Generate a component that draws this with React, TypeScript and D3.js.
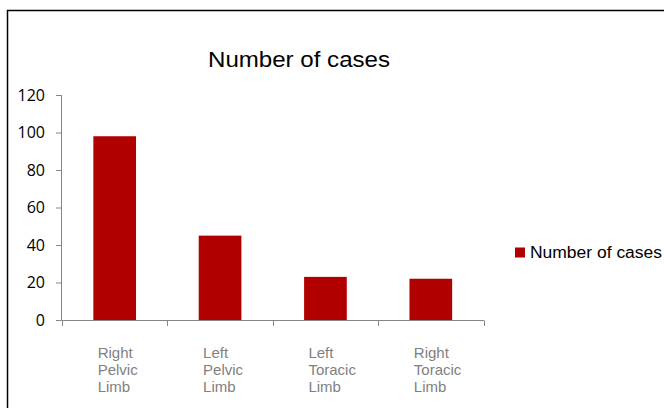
import React from "react";
import * as d3 from "d3";

const categories: string[][] = [
  ["Right", "Pelvic", "Limb"],
  ["Left", "Pelvic", "Limb"],
  ["Left", "Toracic", "Limb"],
  ["Right", "Toracic", "Limb"],
];
const categoryKeys = ["Right Pelvic Limb", "Left Pelvic Limb", "Left Toracic Limb", "Right Toracic Limb"];
const values = [98, 45, 23, 22];
const yTicks = [0, 20, 40, 60, 80, 100, 120];
const seriesName = "Number of cases";
const title = "Number of cases";

export default function App() {
  const W = 664, H = 408;
  const x = d3.scaleBand<string>().domain(categoryKeys).range([62, 483.5]).padding(0);
  const y = d3.scaleLinear().domain([0, 120]).range([320, 95]);
  const bw = x.bandwidth();
  const barW = bw * 0.405;
  const axisColor = "#868686";
  const barColor = "#b00000";

  return (
    <svg width={W} height={H} style={{ position: "absolute", left: 0, top: 0, background: "#fff" }}>
      <rect x={7.5} y={10.5} width={W + 10} height={H + 10} fill="#fff" stroke="#000" strokeWidth={1.5} />
      <text x={299} y={67} textAnchor="middle" fontFamily="Liberation Sans, Arial, sans-serif" fontSize={22} fill="#000"
        textLength={182} lengthAdjust="spacingAndGlyphs">{title}</text>

      {values.map((v, i) => {
        const cx = (x(categoryKeys[i]) as number) + bw / 2;
        return <rect key={i} x={cx - barW / 2} y={y(v)} width={barW} height={y(0) - y(v)} fill={barColor} />;
      })}

      {/* y axis */}
      <line x1={61.5} x2={61.5} y1={y(120)} y2={y(0)} stroke={axisColor} strokeWidth={1} />
      {yTicks.map((t) => (
        <g key={t}>
          <line x1={56} x2={61.5} y1={y(t) + 0.5} y2={y(t) + 0.5} stroke={axisColor} />
          <text x={45} y={y(t) + 5.5} textAnchor="end" fontFamily="Open Sans, sans-serif" fontSize={16} fill="#000">{t}</text>
        </g>
      ))}

      {/* x axis */}
      <line x1={61.5} x2={484} y1={320.5} y2={320.5} stroke={axisColor} />
      {[...categoryKeys.map((c) => x(c) as number), 62 + bw * 4].map((px, i) => (
        <line key={i} x1={Math.round(px) + 0.5} x2={Math.round(px) + 0.5} y1={320.5} y2={326} stroke={axisColor} />
      ))}
      {categories.map((lines, i) => {
        const lx = (x(categoryKeys[i]) as number) + bw / 2 - 17;
        return (
          <text key={i} fontFamily="Liberation Sans, Arial, sans-serif" fontSize={15} fill="#7f7f7f">
            {lines.map((l, j) => (
              <tspan key={j} x={lx} y={357.5 + j * 17}>{l}</tspan>
            ))}
          </text>
        );
      })}

      {/* legend */}
      <rect x={515} y={247.5} width={10} height={10} fill={barColor} />
      <text x={530} y={258} fontFamily="Liberation Sans, Arial, sans-serif" fontSize={16} fill="#000"
        textLength={132} lengthAdjust="spacingAndGlyphs">{seriesName}</text>
    </svg>
  );
}
